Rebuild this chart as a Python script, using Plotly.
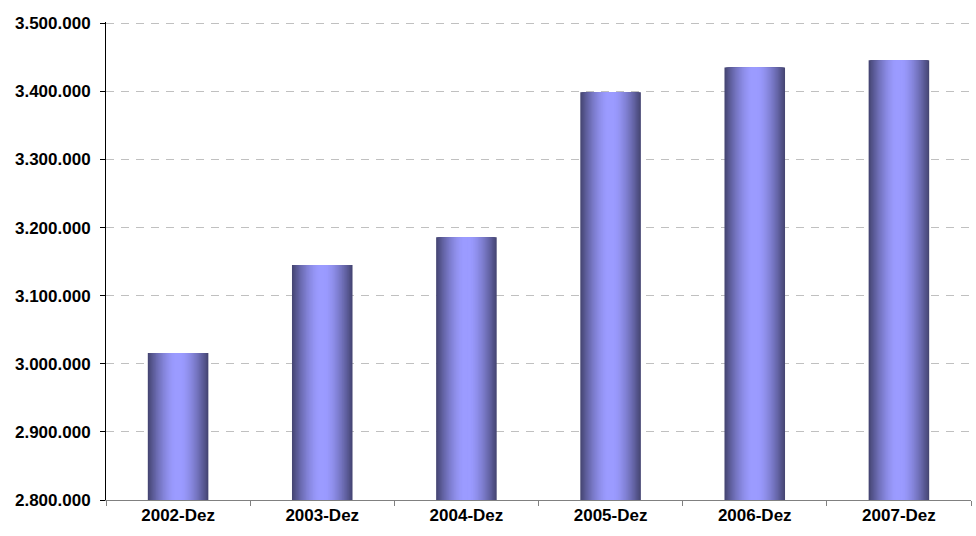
import plotly.graph_objects as go

categories = ["2002-Dez", "2003-Dez", "2004-Dez", "2005-Dez", "2006-Dez", "2007-Dez"]
values = [3016000, 3145000, 3186000, 3399000, 3435000, 3446000]
y_ticks = [2800000, 2900000, 3000000, 3100000, 3200000, 3300000, 3400000, 3500000]

BAR_W = 0.42
N_LAYERS = 26
edge = (70, 70, 116)
center = (155, 155, 255)

fig = go.Figure()
for i in range(N_LAYERS):
    d = 1 - i / N_LAYERS  # fraction of full width
    t = max(0.0, (d - 0.12) / 0.88) ** 1.5
    col = tuple(round(center[k] + (edge[k] - center[k]) * t) for k in range(3))
    fig.add_trace(go.Bar(
        x=categories, y=values,
        width=BAR_W * d,
        marker=dict(color="rgb(%d,%d,%d)" % col, line=dict(width=0)),
        showlegend=False,
        hoverinfo="skip" if i else "y",
    ))

fig.update_layout(
    width=976, height=536,
    margin=dict(l=106, r=5, t=22, b=36),
    barmode="overlay",
    plot_bgcolor="white", paper_bgcolor="white",
    separators=",.",
    font=dict(family="Liberation Sans, Arial, sans-serif", size=17, color="black"),
    xaxis=dict(
        type="category",
        showline=True, linecolor="#808080", linewidth=1,
        ticks="outside", tickson="boundaries", ticklen=5, tickcolor="#808080",
        showgrid=False,
        tickfont=dict(size=17, weight="bold", color="black"),
    ),
    yaxis=dict(
        range=[2800000, 3502000],
        tickvals=y_ticks,
        tickformat=",d",
        showline=True, linecolor="black", linewidth=1,
        ticks="outside", ticklen=5, tickcolor="black",
        ticklabelstandoff=6,
        showgrid=True, gridcolor="#c0c0c0", gridwidth=1, griddash="8px,7px",
        zeroline=False,
        tickfont=dict(size=17, weight="bold", color="black"),
    ),
)

fig.write_html("out.html")
